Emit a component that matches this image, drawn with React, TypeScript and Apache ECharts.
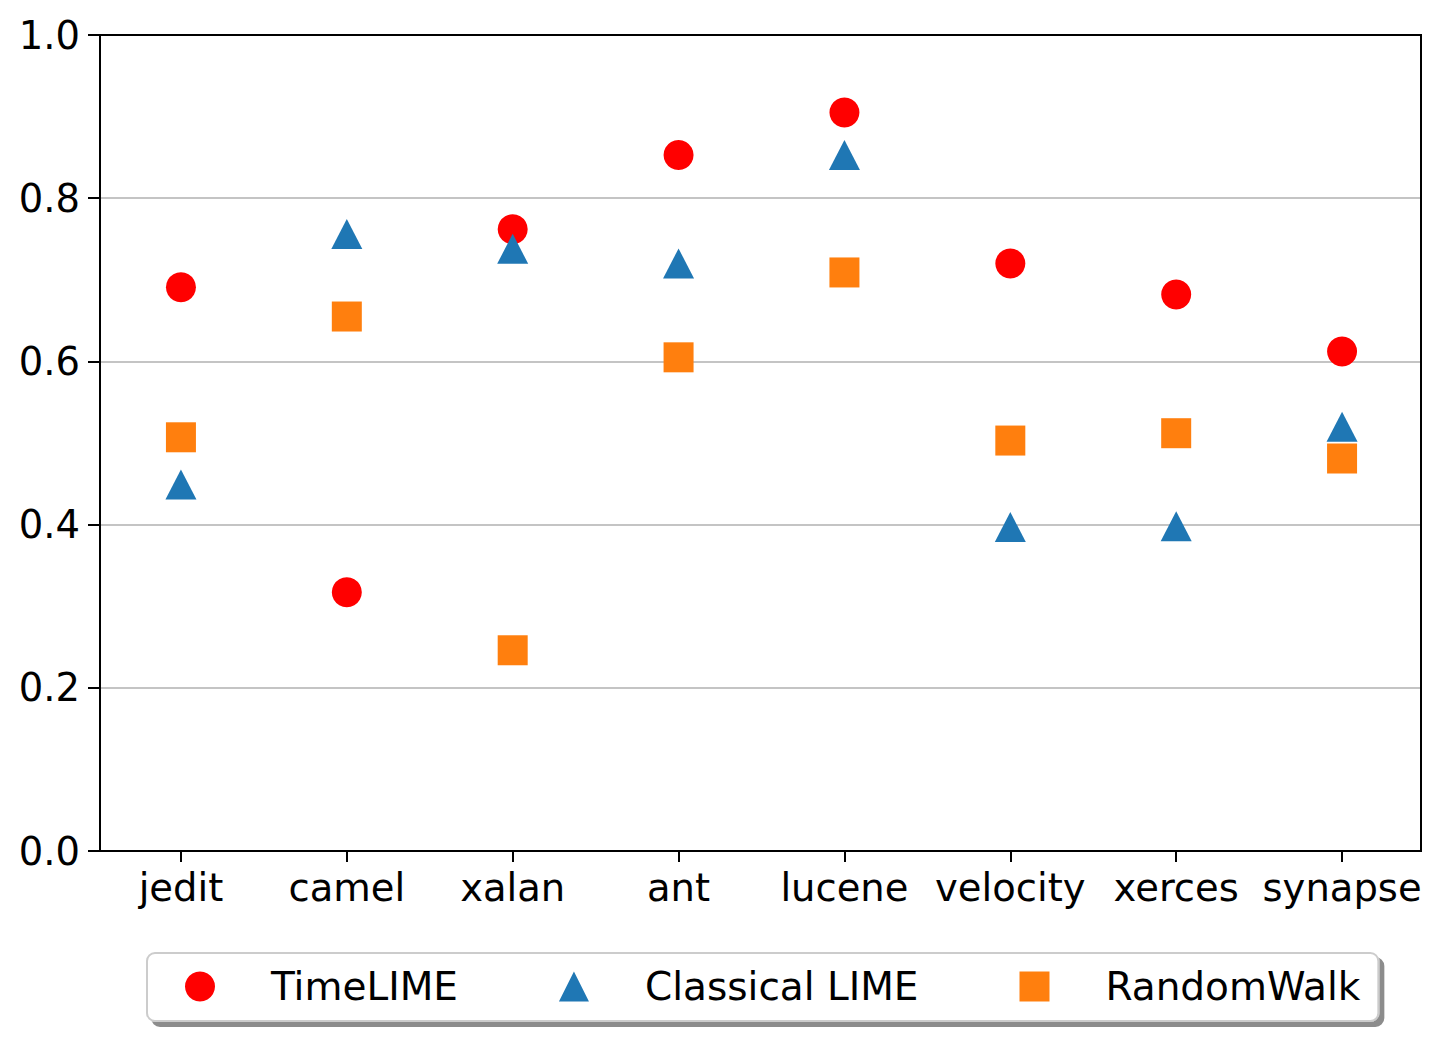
import React, { useEffect, useRef } from "react";
import * as echarts from "echarts";

const categories = ["jedit", "camel", "xalan", "ant", "lucene", "velocity", "xerces", "synapse"];
const timeLIME = [0.691, 0.317, 0.762, 0.853, 0.905, 0.72, 0.682, 0.612];
const classicalLIME = [0.449, 0.756, 0.738, 0.72, 0.853, 0.397, 0.398, 0.52];
const randomWalk = [0.507, 0.655, 0.246, 0.605, 0.709, 0.503, 0.512, 0.481];
const yTicks = [0, 0.2, 0.4, 0.6, 0.8, 1.0];

const FONT = "DejaVu Sans";

export default function App() {
  const ref = useRef<HTMLDivElement>(null);
  useEffect(() => {
    if (!ref.current) return;
    const chart = echarts.init(ref.current, undefined, { renderer: "svg" });
    const axisText = { fontFamily: FONT, fontSize: 38.5, color: "#000" };
    chart.setOption({
      animation: false,
      backgroundColor: "#fff",
      grid: { left: 98, right: 17, top: 35, bottom: 190, containLabel: false },
      graphic: [
        {
          type: "rect",
          shape: { x: 1422, y: 30, width: 12, height: 826 },
          style: { fill: "#fff", stroke: "none" },
          silent: true,
          z: 49,
        },
        {
          type: "rect",
          shape: { x: 100, y: 35, width: 1321, height: 816 },
          style: { fill: "none", stroke: "#000", lineWidth: 2 },
          silent: true,
          z: 50,
        },
      ],
      legend: {
        left: 147,
        top: 953,
        orient: "horizontal",
        itemWidth: 30,
        itemHeight: 30,
        itemGap: 101,
        padding: [14, 18, 15, 38],
        backgroundColor: "#fff",
        borderColor: "#cccccc",
        borderWidth: 2,
        borderRadius: 8,
        shadowColor: "rgba(0,0,0,0.45)",
        shadowBlur: 1,
        shadowOffsetX: 5,
        shadowOffsetY: 5,
        textStyle: {
          fontFamily: FONT,
          fontSize: 39,
          color: "#000",
          lineHeight: 39,
          padding: [0, 0, 0, 51],
        },
        data: [
          { name: "TimeLIME", icon: "circle" },
          { name: "Classical LIME", icon: "triangle" },
          { name: "RandomWalk", icon: "rect" },
        ],
      },
      xAxis: {
        type: "category",
        data: categories,
        position: "bottom",
        boundaryGap: true,
        axisLine: { show: false },
        axisTick: { show: true, alignWithLabel: true, length: 11, lineStyle: { color: "#000", width: 2 } },
        axisLabel: { ...axisText, margin: 17, interval: 0 },
        splitLine: { show: false },
      },
      yAxis: {
        type: "value",
        min: yTicks[0],
        max: yTicks[yTicks.length - 1],
        interval: 0.2,
        position: "left",
        offset: -2,
        axisLine: { show: false },
        axisTick: { show: true, length: 12, lineStyle: { color: "#000", width: 2 } },
        axisLabel: { ...axisText, margin: 20, formatter: (v: number) => v.toFixed(1) },
        splitLine: { show: true, lineStyle: { color: "#b0b0b0", width: 1.6 } },
      },
      series: [
        {
          name: "TimeLIME",
          type: "scatter",
          data: timeLIME,
          symbol: "circle",
          symbolSize: 30,
          itemStyle: { color: "#ff0000", opacity: 1 },
          z: 3,
        },
        {
          name: "Classical LIME",
          type: "scatter",
          data: classicalLIME,
          symbol: "triangle",
          symbolSize: [31, 30],
          itemStyle: { color: "#1f77b4", opacity: 1 },
          z: 4,
        },
        {
          name: "RandomWalk",
          type: "scatter",
          data: randomWalk,
          symbol: "rect",
          symbolSize: 30,
          itemStyle: { color: "#ff7f0e", opacity: 1 },
          z: 5,
        },
      ],
    });
    return () => chart.dispose();
  }, []);
  return (
    <div
      ref={ref}
      style={{ position: "absolute", left: 0, top: 0, width: 1442, height: 1041 }}
    />
  );
}
